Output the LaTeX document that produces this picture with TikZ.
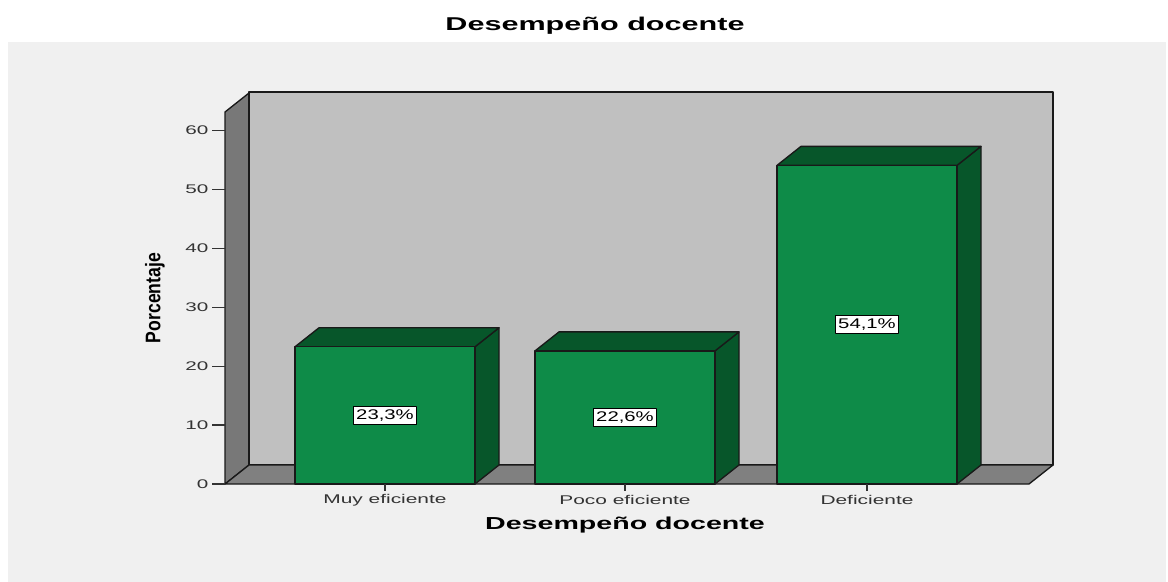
\documentclass[tikz,border=0pt]{standalone}
\usepackage{fontspec}
\setmainfont[FakeStretch=1.65]{Liberation Sans}
\newfontfamily\plainsans{Liberation Sans}
\newfontfamily\labelsans[FakeStretch=1.45]{Liberation Sans}
\usetikzlibrary{calc}

\definecolor{panel}{RGB}{240,240,240}
\definecolor{backwall}{RGB}{192,192,192}
\definecolor{sidewall}{RGB}{120,120,120}
\definecolor{floorgray}{RGB}{128,128,128}
\definecolor{barfront}{RGB}{14,139,72}
\definecolor{bardark}{RGB}{7,86,42}

\begin{document}
\begin{tikzpicture}[x=0.75pt, y=-0.75pt, line join=round,
	face/.style = {draw=black!90, line width=1pt},
	pct/.style = {draw=black, fill=white, line width=0.8pt, inner xsep=2.2pt, inner ysep=0pt, minimum height=13.5pt, font=\labelsans\fontsize{10.5}{11}\selectfont},
	tick label/.style = {anchor=east, inner sep=1pt, text=black!80, font=\fontsize{9.4}{10}\selectfont},
	cat label/.style = {text=black!80, font=\fontsize{9.5}{10}\selectfont},
	axis title/.style = {font=\bfseries\fontsize{13}{14}\selectfont}]
		%frame
		\useasboundingbox (0,0) rectangle (1168,582);
		\fill[white] (0,0) rectangle (1168,582);
		\fill[panel] (8,42) rectangle (1166,582);
		
		%variables
		\def\dx{24};
		\def\dy{-19};
		\def\base{484};
		\def\scl{5.89};
		
		%coordinates
		\coordinate (O) at (225,\base);
		\coordinate (top left) at (225,112);
		\coordinate (floor end) at (1029,\base);
		
		%walls and floor
		\draw[face, fill=sidewall] (O) -- (top left) -- ++(\dx,\dy) -- ($ (O) + (\dx,\dy) $) -- cycle;
		\draw[face, fill=backwall] ($ (O) + (\dx,\dy) $) rectangle (1053,92);
		\draw[face, fill=floorgray] (O) -- ++(\dx,\dy) -- ($ (floor end) + (\dx,\dy) $) -- (floor end) -- cycle;
		
		%value axis
		\foreach \v in {0,10,...,60} {
			\draw[black!80, line width=1pt] (212,\base-\scl*\v) -- (225,\base-\scl*\v);
			\node[tick label] (tick\v) at (210,\base-\scl*\v) {\v};
		}
		
		%bars
		\foreach \c/\v/\t/\name [count=\i] in {385/23.3/{23,3\%}/Muy eficiente, 625/22.6/{22,6\%}/Poco eficiente, 867/54.1/{54,1\%}/Deficiente} {
			\pgfmathsetmacro\ytop{\base-\scl*\v}
			\draw[face, fill=bardark] (\c+90,\ytop) -- ++(\dx,\dy) -- (\c+90+\dx,\base+\dy) -- (\c+90,\base) -- cycle;
			\draw[face, fill=bardark] (\c-90,\ytop) -- ++(\dx,\dy) -- ++(180,0) -- (\c+90,\ytop) -- cycle;
			\draw[face, fill=barfront] (\c-90,\base) rectangle (\c+90,\ytop);
			\node[pct] (val\i) at (\c,{(\base+\ytop)/2}) {\t};
			\draw[black!80, line width=1pt] (\c,\base) -- (\c,491);
			\node[cat label] (cat\i) at (\c,500) {\name};
		}
		
		%titles
		\node[font=\bfseries\fontsize{13.9}{15}\selectfont] (title) at (595,26) {Desempeño docente};
		\node[axis title] (xlabel) at (625,525) {Desempeño docente};
		\node[rotate=90, font=\plainsans\bfseries\fontsize{13.2}{14}\selectfont] (ylabel) at (155,298) {\scalebox{1}[1.2]{Porcentaje}};
	\end{tikzpicture}
\end{document}
